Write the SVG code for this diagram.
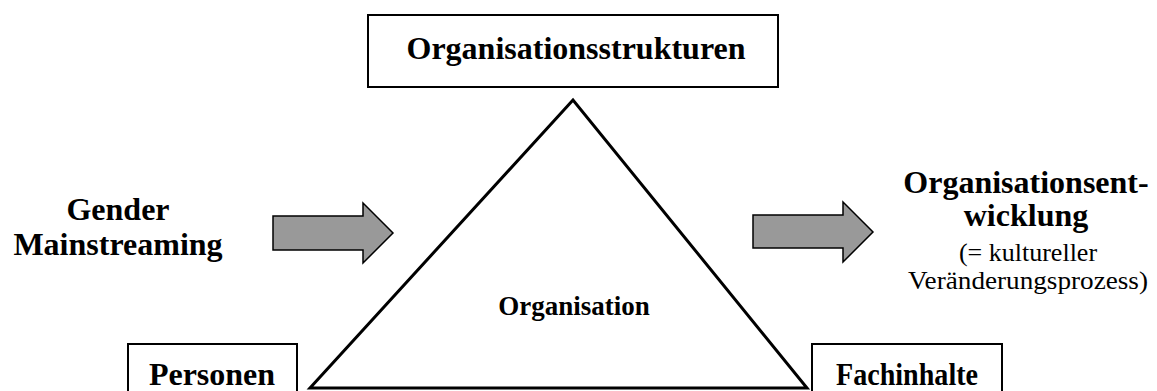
<svg xmlns="http://www.w3.org/2000/svg" width="1157" height="391" viewBox="0 0 1157 391">
<style>
.box{fill:#fff;stroke:#000;stroke-width:2}
.b{font-family:'Liberation Serif','Times New Roman',serif;font-weight:bold;fill:#000;text-anchor:middle;font-size:32px}
.r{font-family:'Liberation Serif','Times New Roman',serif;font-weight:normal;fill:#000;text-anchor:middle;font-size:26px}
.arr{fill:#999;stroke:#000;stroke-width:1.5}
</style>
<rect width="1157" height="391" fill="#fff"/>
<g id="organisation">
<polygon points="573,100 310,388 807,388" fill="#fff" stroke="#000" stroke-width="3"/>
<text class="b" x="574" y="315" style="font-size:27px">Organisation</text>
</g>
<g id="organisationsstrukturen">
<rect class="box" x="368" y="15" width="410" height="72"/>
<text class="b" x="576" y="59">Organisationsstrukturen</text>
</g>
<g id="personen">
<rect class="box" x="128" y="344" width="169" height="60"/>
<text class="b" x="212" y="385">Personen</text>
</g>
<g id="fachinhalte">
<rect class="box" x="812" y="344" width="190" height="60"/>
<text class="b" x="907" y="385" textLength="142" lengthAdjust="spacingAndGlyphs">Fachinhalte</text>
</g>
<g id="gender">
<text class="b" x="118" y="220">Gender</text>
<text class="b" x="118" y="255">Mainstreaming</text>
</g>
<g id="entwicklung">
<text class="b" x="1026" y="193">Organisationsent-</text>
<text class="b" x="1026" y="226">wicklung</text>
<text class="r" x="1028" y="261">(= kultureller</text>
<text class="r" x="1028" y="289" textLength="240" lengthAdjust="spacingAndGlyphs">Veränderungsprozess)</text>
</g>
<g id="connectors">
<polygon class="arr" points="273,216 363,216 363,203 393,233 363,263 363,250 273,250"/>
<polygon class="arr" points="753,215 843,215 843,202 873,232 843,262 843,248 753,248"/>
</g>
</svg>
